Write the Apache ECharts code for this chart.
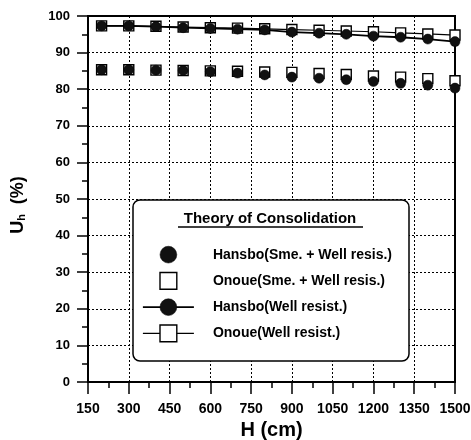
<!DOCTYPE html>
<html>
<head>
<meta charset="utf-8">
<script src="https://cdn.jsdelivr.net/npm/echarts@6/dist/echarts.min.js"></script>
<style>
  html, body { margin: 0; padding: 0; background: #fff; }
  #chart { width: 471px; height: 440px; }
</style>
</head>
<body>
<div id="chart"></div>
<script>
// Drain length H (cm) at which the degree of consolidation was computed
const drainLength = [200, 300, 400, 500, 600, 700, 800, 900, 1000, 1100, 1200, 1300, 1400, 1500];

// Degree of horizontal consolidation Uh (%)
const hansboWell  = [97.3, 97.3, 97.1, 96.8, 96.6, 96.4, 96.2, 95.6, 95.3, 95.0, 94.5, 94.2, 93.7, 93.0];
const onoueWell   = [97.3, 97.3, 97.2, 97.0, 96.8, 96.7, 96.5, 96.3, 96.1, 95.9, 95.7, 95.4, 95.1, 94.8];
const hansboSmear = [85.3, 85.3, 85.2, 85.1, 84.8, 84.4, 83.9, 83.3, 83.0, 82.6, 82.1, 81.6, 81.1, 80.3];
const onoueSmear  = [85.3, 85.3, 85.2, 85.1, 85.0, 84.9, 84.7, 84.6, 84.3, 84.0, 83.6, 83.3, 82.9, 82.3];

// Axis ticks
const xTicks = [150, 300, 450, 600, 750, 900, 1050, 1200, 1350, 1500];
const yTicks = [0, 10, 20, 30, 40, 50, 60, 70, 80, 90, 100];

const seriesNames = [
  'Hansbo(Sme. + Well resis.)',
  'Onoue(Sme. + Well resis.)',
  'Hansbo(Well resist.)',
  'Onoue(Well resist.)'
];

const FONT = '"Liberation Sans", Arial, sans-serif';
const pairs = vals => drainLength.map((h, i) => [h, vals[i]]);

const circleStyle = { color: '#111', borderColor: '#000', borderWidth: 0.5 };
const squareStyle = { color: '#fff', borderColor: '#000', borderWidth: 1.4 };

const chart = echarts.init(document.getElementById('chart'), null, { renderer: 'canvas' });

chart.setOption({
  animation: false,
  backgroundColor: '#fff',
  grid: {
    left: 88, right: 16, top: 16, bottom: 58,
    outerBoundsMode: 'none',
    containLabel: false,
    show: true, borderColor: '#000', borderWidth: 2, backgroundColor: 'transparent'
  },
  xAxis: {
    type: 'value',
    min: xTicks[0], max: xTicks[xTicks.length - 1],
    interval: xTicks[1] - xTicks[0],
    name: 'H (cm)',
    nameLocation: 'middle',
    nameGap: 36,
    nameTextStyle: { fontFamily: FONT, fontWeight: 'bold', fontSize: 20, color: '#000' },
    axisLine: { show: true, onZero: false, lineStyle: { color: '#000', width: 2 } },
    axisTick: { show: true, inside: false, length: 12, lineStyle: { color: '#000', width: 1.5 } },
    minorTick: { show: true, splitNumber: 2, length: 6, lineStyle: { color: '#000', width: 1.5 } },
    axisLabel: {
      margin: 20, fontFamily: FONT, fontWeight: 'bold', fontSize: 14, color: '#000',
      formatter: v => String(v)
    },
    splitLine: { show: true, lineStyle: { color: '#000', width: 1, type: [2, 2] } }
  },
  yAxis: {
    type: 'value',
    min: yTicks[0], max: yTicks[yTicks.length - 1],
    interval: yTicks[1] - yTicks[0],
    name: '{u|U}{h|h}{u|  (%)}',
    nameLocation: 'middle',
    nameRotate: 90,
    nameGap: 61,
    nameTextStyle: {
      color: '#000',
      padding: [0, 12, 0, 0],
      rich: {
        u: { fontFamily: FONT, fontWeight: 'bold', fontSize: 18, color: '#000' },
        h: { fontFamily: FONT, fontWeight: 'bold', fontSize: 11, color: '#000', verticalAlign: 'bottom' }
      }
    },
    axisLine: { show: true, onZero: false, lineStyle: { color: '#000', width: 2 } },
    axisTick: { show: true, inside: false, length: 11, lineStyle: { color: '#000', width: 1.5 } },
    minorTick: { show: true, splitNumber: 2, length: 6, lineStyle: { color: '#000', width: 1.5 } },
    axisLabel: { margin: 18, fontFamily: FONT, fontWeight: 'bold', fontSize: 13, color: '#000' },
    splitLine: { show: true, lineStyle: { color: '#000', width: 1, type: [2, 2] } }
  },
  legend: {
    orient: 'vertical',
    left: 142, top: 246,
    padding: 0,
    itemWidth: 51, itemHeight: 21, itemGap: 8.5,
    selectedMode: false,
    z: 10,
    data: seriesNames,
    lineStyle: { width: 'inherit' },
    itemStyle: { borderWidth: 'inherit' },
    textStyle: { fontFamily: FONT, fontWeight: 'bold', fontSize: 14, color: '#000', padding: [0, 0, 0, 14] }
  },
  graphic: [
    {
      type: 'rect', z: 5,
      shape: { x: 133, y: 200, width: 276, height: 161, r: 7 },
      style: { fill: '#fff', stroke: '#000', lineWidth: 1.5 }
    },
    {
      type: 'text', z: 6,
      x: 270, y: 219,
      style: {
        text: 'Theory of Consolidation',
        fontFamily: FONT, fontWeight: 'bold', fontSize: 15, fill: '#000',
        align: 'center', verticalAlign: 'middle'
      }
    },
    {
      type: 'line', z: 6,
      shape: { x1: 178, y1: 227, x2: 363, y2: 227 },
      style: { stroke: '#000', lineWidth: 1.5 }
    }
  ],
  series: [
    {
      name: seriesNames[1], type: 'line', z: 2,
      data: pairs(onoueSmear),
      symbol: 'rect', symbolSize: 10, showAllSymbol: true,
      itemStyle: squareStyle,
      lineStyle: { width: 0, opacity: 0 }
    },
    {
      name: seriesNames[3], type: 'line', z: 2,
      data: pairs(onoueWell),
      symbol: 'rect', symbolSize: 10, showAllSymbol: true,
      itemStyle: squareStyle,
      lineStyle: { color: '#000', width: 1.2 }
    },
    {
      name: seriesNames[0], type: 'line', z: 3,
      data: pairs(hansboSmear),
      symbol: 'circle', symbolSize: 10, showAllSymbol: true,
      itemStyle: circleStyle,
      lineStyle: { width: 0, opacity: 0 }
    },
    {
      name: seriesNames[2], type: 'line', z: 3,
      data: pairs(hansboWell),
      symbol: 'circle', symbolSize: 10, showAllSymbol: true,
      itemStyle: circleStyle,
      lineStyle: { color: '#000', width: 1.8 }
    }
  ]
});
</script>
</body>
</html>
